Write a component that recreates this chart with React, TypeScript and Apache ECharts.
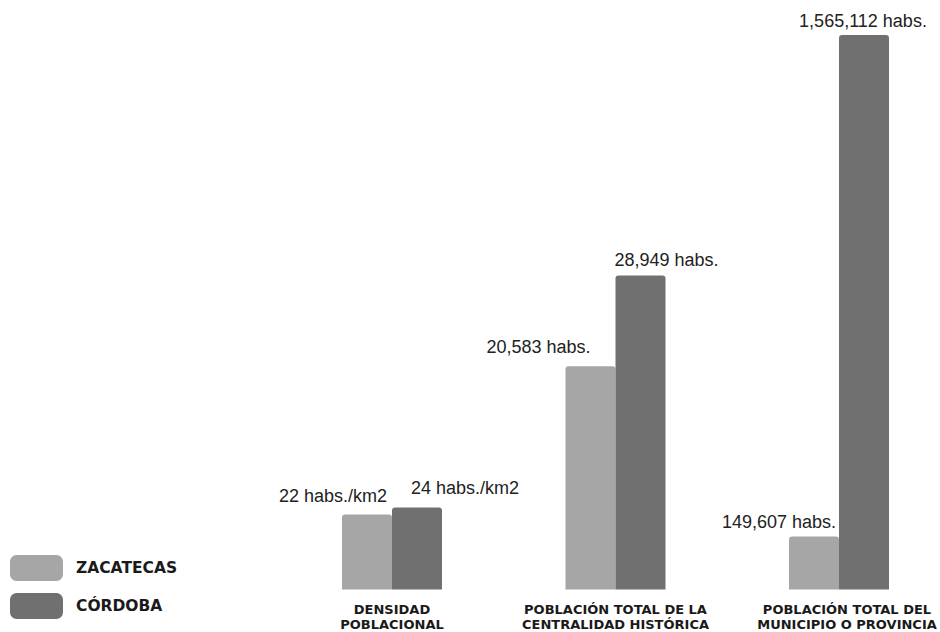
import React, { useEffect, useRef } from "react";
import * as echarts from "echarts";

const categories = [
  "DENSIDAD\nPOBLACIONAL",
  "POBLACIÓN TOTAL DE LA\nCENTRALIDAD HISTÓRICA",
  "POBLACIÓN TOTAL DEL\nMUNICIPIO O PROVINCIA",
];
const seriesNames = ["ZACATECAS", "CÓRDOBA"];
const zacatecasValues = [22, 20583, 149607];
const cordobaValues = [24, 28949, 1565112];
const zacatecasLabels = ["22 habs./km2", "20,583 habs.", "149,607 habs."];
const cordobaLabels = ["24 habs./km2", "28,949 habs.", "1,565,112 habs."];

// each group has its own vertical scale
const groupMax = [162.5, 51130, 1565112];
const groupCenters = [392, 615.5, 839];
const zLabelOffset = [[-34, 0], [-52, 0], [-35, 0]];
const cLabelOffset = [[48, 0], [26, 0], [-1, 0]];
const zLabelDist = [9, 10, 5];
const cLabelDist = [11, 7, 5.5];

const LIGHT = "#a6a6a6";
const DARK = "#707070";

export default function App() {
  const ref = useRef<HTMLDivElement>(null);
  useEffect(() => {
    document.body.style.margin = "0";
    if (!ref.current) return;
    const chart = echarts.init(ref.current, undefined, { renderer: "svg" });
    const grids: any[] = [];
    const xAxes: any[] = [];
    const yAxes: any[] = [];
    const series: any[] = [];
    const valueLabelStyle = {
      fontFamily: "Liberation Sans, Arial, sans-serif",
      fontSize: 18,
      lineHeight: 18,
      color: "#222",
    };
    categories.forEach((cat, i) => {
      grids.push({
        left: groupCenters[i] - 100,
        width: 200,
        top: 35,
        height: 554.5,
        containLabel: false,
        outerBoundsMode: "none",
      });
      xAxes.push({
        type: "category",
        gridIndex: i,
        data: [cat],
        axisLine: { show: false },
        axisTick: { show: false },
        splitLine: { show: false },
        axisLabel: {
          interval: 0,
          margin: 13,
          fontFamily: "DejaVu Sans, sans-serif",
          fontWeight: "bold",
          fontSize: 13,
          lineHeight: 14.5,
          color: "#1a1a1a",
          align: "center",
          padding: i === 2 ? [0, 0, 0, 16] : 0,
        },
      });
      yAxes.push({
        type: "value",
        gridIndex: i,
        min: 0,
        max: groupMax[i],
        show: false,
        splitLine: { show: false },
      });
      series.push({
        name: seriesNames[0],
        type: "bar",
        xAxisIndex: i,
        yAxisIndex: i,
        barWidth: 50,
        barGap: "0%",
        data: [zacatecasValues[i]],
        itemStyle: { color: LIGHT, borderRadius: [3, 3, 0, 0] },
        label: {
          show: true,
          position: "top",
          distance: zLabelDist[i],
          offset: zLabelOffset[i],
          formatter: zacatecasLabels[i],
          ...valueLabelStyle,
        },
      });
      series.push({
        name: seriesNames[1],
        type: "bar",
        xAxisIndex: i,
        yAxisIndex: i,
        barWidth: 50,
        barGap: "0%",
        data: [cordobaValues[i]],
        itemStyle: { color: DARK, borderRadius: [3, 3, 0, 0] },
        label: {
          show: true,
          position: "top",
          distance: cLabelDist[i],
          offset: cLabelOffset[i],
          formatter: cordobaLabels[i],
          ...valueLabelStyle,
        },
      });
    });

    chart.setOption({
      animation: false,
      backgroundColor: "#ffffff",
      legend: {
        data: seriesNames,
        orient: "vertical",
        left: 5,
        top: 550,
        itemWidth: 53,
        itemHeight: 26,
        itemGap: 12,
        icon: "roundRect",
        selectedMode: false,
        textStyle: {
          fontFamily: "DejaVu Sans, sans-serif",
          fontWeight: "bold",
          fontSize: 15.5,
          color: "#1a1a1a",
          padding: [0, 0, 0, 8],
        },
      },
      grid: grids,
      xAxis: xAxes,
      yAxis: yAxes,
      series,
    });
    return () => chart.dispose();
  }, []);
  return <div ref={ref} style={{ width: 940, height: 632 }} />;
}
